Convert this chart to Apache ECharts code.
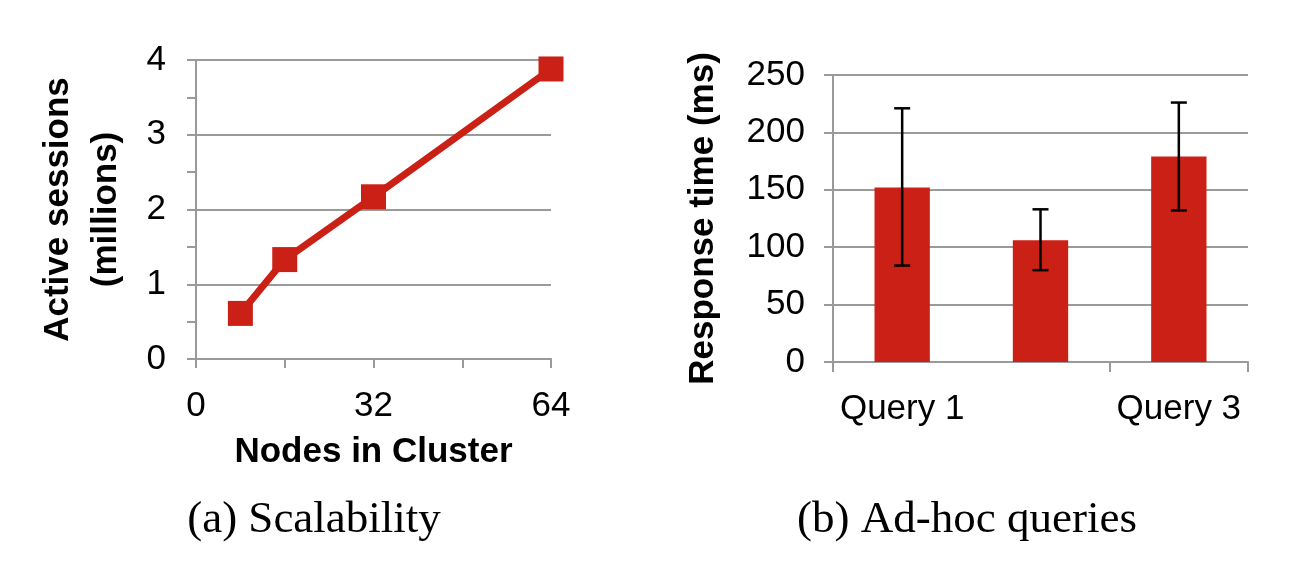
<!DOCTYPE html>
<html><head><meta charset="utf-8">
<script src="https://cdn.jsdelivr.net/npm/echarts@6/dist/echarts.min.js"></script>
<style>html,body{margin:0;background:#fff}#c{width:1306px;height:584px}</style>
</head><body><div id="c"></div>
<script>
var nodes = [8, 16, 32, 64];
var sessions = [0.61, 1.33, 2.17, 3.88];
var queries = ['Query 1', 'Query 2', 'Query 3'];
var respTime = [152, 106, 179];
var errLow = [84, 80, 132];
var errHigh = [221, 133, 226];

var red = '#cb2015', gray = '#9a9a9a';
var lblFont = 'Liberation Sans, Arial, sans-serif';
var capFont = '45px "Liberation Serif", "DejaVu Serif", serif';
var chart = echarts.init(document.getElementById('c'));

var option = {
  animation: false,
  grid: [
    {left: 196, right: 755, top: 60, bottom: 225},
    {left: 833, right: 58, top: 75, bottom: 222}
  ],
  xAxis: [{
    gridIndex: 0, type: 'value', min: 0, max: 64, interval: 16,
    name: 'Nodes in Cluster', nameLocation: 'middle', nameGap: 76,
    nameTextStyle: {fontSize: 35, fontWeight: 'bold', color: '#000', fontFamily: lblFont},
    axisLine: {lineStyle: {color: gray, width: 2}},
    axisTick: {show: true, length: 9, lineStyle: {color: gray, width: 2}},
    axisLabel: {margin: 30, fontSize: 35, color: '#000', fontFamily: lblFont,
      formatter: function (v) { return v % 32 === 0 ? v : ''; }},
    splitLine: {show: false}
  }, {
    gridIndex: 1, type: 'category', data: queries,
    axisLine: {lineStyle: {color: gray, width: 2}},
    axisTick: {show: true, length: 10, lineStyle: {color: gray, width: 2}},
    axisLabel: {margin: 30, fontSize: 35, color: '#000', fontFamily: lblFont}
  }],
  yAxis: [{
    gridIndex: 0, type: 'value', min: 0, max: 4, interval: 1,
    name: 'Active sessions\n(millions)', nameLocation: 'middle', nameGap: 66,
    nameTextStyle: {fontSize: 35, fontWeight: 'bold', color: '#000', fontFamily: lblFont, lineHeight: 48},
    axisLine: {show: true, lineStyle: {color: gray, width: 2}},
    axisTick: {show: true, length: 9, lineStyle: {color: gray, width: 2}},
    minorTick: {show: true, splitNumber: 2, length: 9, lineStyle: {color: gray, width: 2}},
    axisLabel: {margin: 30, fontSize: 35, color: '#000', fontFamily: lblFont},
    splitLine: {lineStyle: {color: gray, width: 2}}
  }, {
    gridIndex: 1, type: 'value', min: 0, max: 250, interval: 50,
    name: 'Response time (ms)', nameLocation: 'middle', nameGap: 112,
    nameTextStyle: {fontSize: 35, fontWeight: 'bold', color: '#000', fontFamily: lblFont},
    axisLine: {show: true, lineStyle: {color: gray, width: 2}},
    axisTick: {show: true, length: 9, lineStyle: {color: gray, width: 2}},
    axisLabel: {margin: 28, fontSize: 35, color: '#000', fontFamily: lblFont},
    splitLine: {lineStyle: {color: gray, width: 2}}
  }],
  series: [{
    type: 'line', xAxisIndex: 0, yAxisIndex: 0,
    data: nodes.map(function (n, i) { return [n, sessions[i]]; }),
    symbol: 'rect', symbolSize: 25,
    lineStyle: {color: red, width: 7}, itemStyle: {color: red}
  }, {
    type: 'bar', xAxisIndex: 1, yAxisIndex: 1, data: respTime,
    barWidth: '40%', itemStyle: {color: red}
  }, {
    type: 'custom', xAxisIndex: 1, yAxisIndex: 1, z: 10,
    data: queries.map(function (q, i) { return [i, errLow[i], errHigh[i]]; }),
    renderItem: function (params, api) {
      var lo = api.coord([api.value(0), api.value(1)]);
      var hi = api.coord([api.value(0), api.value(2)]);
      var w = 8, st = {stroke: '#000', lineWidth: 2.5};
      return {type: 'group', children: [
        {type: 'line', shape: {x1: lo[0], y1: lo[1], x2: hi[0], y2: hi[1]}, style: st},
        {type: 'line', shape: {x1: lo[0] - w, y1: lo[1], x2: lo[0] + w, y2: lo[1]}, style: st},
        {type: 'line', shape: {x1: hi[0] - w, y1: hi[1], x2: hi[0] + w, y2: hi[1]}, style: st}
      ]};
    }
  }],
  graphic: [
    {type: 'text', x: 314, y: 520, style: {text: '(a) Scalability', fill: '#000',
      font: capFont, textAlign: 'center', textVerticalAlign: 'middle'}},
    {type: 'text', x: 967, y: 520, style: {text: '(b) Ad-hoc queries', fill: '#000',
      font: capFont, textAlign: 'center', textVerticalAlign: 'middle'}}
  ]
};
chart.setOption(option);
</script></body></html>
